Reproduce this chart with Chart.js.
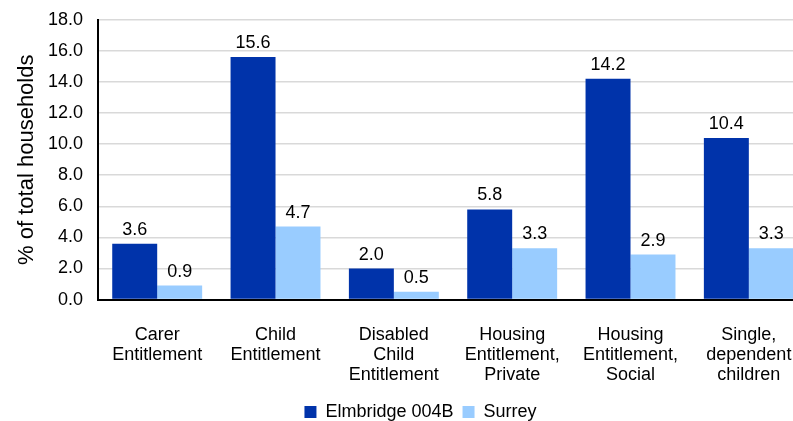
<!DOCTYPE html>
<html>
<head>
<meta charset="utf-8">
<script src="https://cdn.jsdelivr.net/npm/chart.js@4"></script>
<style>
    html, body { margin: 0; padding: 0; background: #fff; overflow: hidden; }
    #wrap { width: 842px; height: 437px; margin-top: -6px; }
</style>
</head>
<body>
<div id="wrap"><canvas id="benefitsChart"></canvas></div>
<script>
// Data
const categories = [
    ['Carer', 'Entitlement'],
    ['Child', 'Entitlement'],
    ['Disabled', 'Child', 'Entitlement'],
    ['Housing', 'Entitlement,', 'Private'],
    ['Housing', 'Entitlement,', 'Social'],
    ['Single,', 'dependent', 'children']
];
const elmbridgeValues = [3.6, 15.6, 2.0, 5.8, 14.2, 10.4];
const surreyValues = [0.9, 4.7, 0.5, 3.3, 2.9, 3.3];
const seriesNames = ['Elmbridge 004B', 'Surrey'];

const FONT = "'Liberation Sans', Arial, sans-serif";
Chart.defaults.font.family = FONT;
Chart.defaults.color = '#000';

// Value labels above each bar
const valueLabels = {
    id: 'valueLabels',
    afterDatasetsDraw(chart) {
        const ctx = chart.ctx;
        ctx.save();
        ctx.font = '18px ' + FONT;
        ctx.fillStyle = '#000';
        ctx.textAlign = 'center';
        ctx.textBaseline = 'alphabetic';
        chart.data.datasets.forEach((ds, i) => {
            chart.getDatasetMeta(i).data.forEach((bar, j) => {
                ctx.fillText(ds.data[j].toFixed(1), bar.x, bar.y - 9);
            });
        });
        ctx.restore();
    }
};

const ctx = document.getElementById('benefitsChart').getContext('2d');
new Chart(ctx, {
    type: 'bar',
    data: {
        labels: categories,
        datasets: [
            {
                label: seriesNames[0],
                data: elmbridgeValues,
                backgroundColor: '#0033aa'
            },
            {
                label: seriesNames[1],
                data: surreyValues,
                backgroundColor: '#99ccff'
            }
        ]
    },
    options: {
        responsive: true,
        maintainAspectRatio: false,
        animation: false,
        categoryPercentage: 0.76,
        barPercentage: 1.0,
        layout: { padding: { top: 3, right: 34, left: 33, bottom: 0 } },
        plugins: {
            legend: {
                position: 'bottom',
                labels: {
                    font: { size: 18 },
                    boxWidth: 12,
                    boxHeight: 12,
                    padding: 0,
                    // small gap between the two legend entries
                    generateLabels(chart) {
                        const items = Chart.defaults.plugins.legend.labels.generateLabels(chart);
                        items.forEach((it, i) => {
                            if (i < items.length - 1) it.text += '\u2002';
                        });
                        return items;
                    }
                }
            },
            tooltip: { enabled: false }
        },
        scales: {
            x: {
                grid: { display: false },
                border: { color: '#000', width: 2 },
                ticks: { font: { size: 18, lineHeight: 1.1 }, maxRotation: 0, padding: 18 }
            },
            y: {
                min: 0,
                max: 18,
                ticks: {
                    stepSize: 2,
                    font: { size: 18 },
                    padding: 15,
                    callback: v => v.toFixed(1)
                },
                grid: { color: '#d9d9d9', lineWidth: 1.5, drawTicks: false },
                border: { color: '#000', width: 2 },
                title: {
                    display: true,
                    text: '% of total households',
                    font: { size: 22, lineHeight: 1 },
                    padding: { top: -17, bottom: -5 }
                }
            }
        }
    },
    plugins: [valueLabels]
});
</script>
</body>
</html>
